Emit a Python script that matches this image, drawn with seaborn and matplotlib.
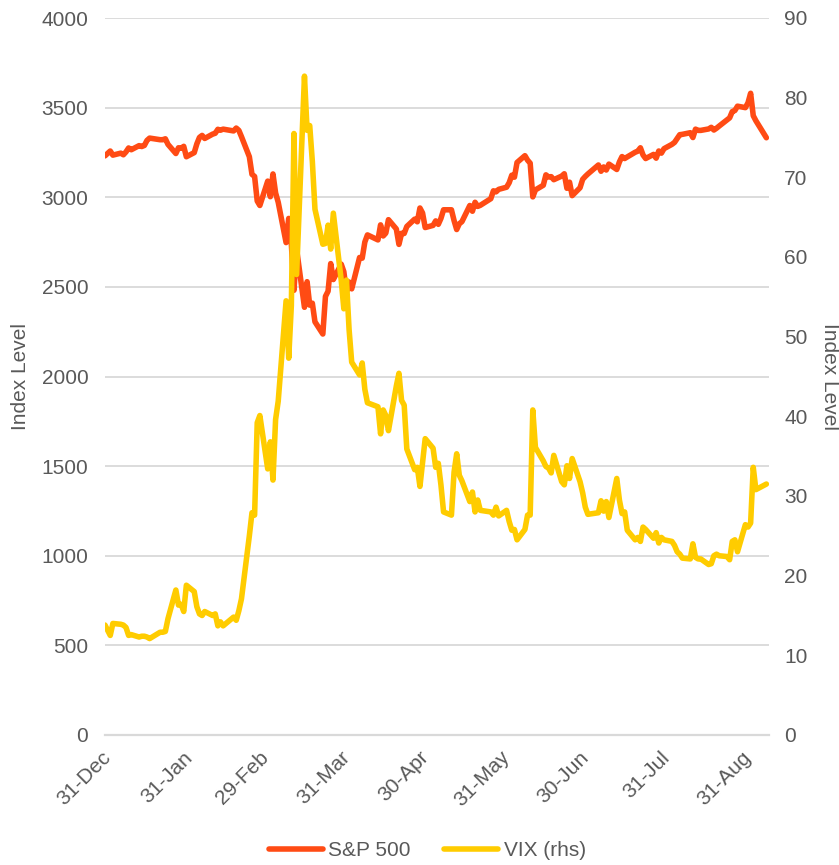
import pandas as pd
import seaborn as sns
import matplotlib.pyplot as plt
import matplotlib.dates as mdates
import matplotlib.transforms as mtransforms
from matplotlib.lines import Line2D

# trading days, 31-Dec-2019 .. 08-Sep-2020
holidays = ['2020-01-01', '2020-01-20', '2020-02-17', '2020-04-10', '2020-05-25', '2020-07-03', '2020-09-07']
dates = pd.bdate_range('2019-12-31', '2020-09-08').difference(pd.to_datetime(holidays))

spx = [3231,
       3258, 3235, 3246, 3237, 3253, 3275, 3265, 3288, 3283, 3289, 3317, 3330, 3321, 3321, 3326, 3295, 3244, 3276, 3273, 3284, 3226,
       3249, 3298, 3334, 3345, 3328, 3352, 3357, 3379, 3374, 3380, 3370, 3386, 3373, 3338, 3226, 3128, 3116, 2979, 2954,
       3090, 3003, 3130, 3024, 2972, 2747, 2882, 2741, 2481, 2711, 2386, 2529, 2398, 2409, 2305, 2237, 2447, 2476, 2630, 2541, 2627, 2585,
       2471, 2527, 2489, 2664, 2660, 2750, 2790, 2762, 2846, 2784, 2800, 2875, 2823, 2737, 2799, 2798, 2837, 2878, 2863, 2940, 2912,
       2831, 2843, 2868, 2849, 2882, 2930, 2930, 2870, 2820, 2852, 2864, 2954, 2922, 2972, 2949, 2955, 2992, 3036, 3030, 3044,
       3056, 3081, 3123, 3112, 3194, 3232, 3207, 3190, 3002, 3041, 3067, 3125, 3113, 3115, 3098, 3118, 3131, 3050, 3084, 3009, 3053, 3100,
       3116, 3130, 3180, 3145, 3169, 3152, 3185, 3155, 3197, 3227, 3216, 3225, 3251, 3257, 3276, 3236, 3216, 3239, 3218, 3258, 3246, 3271,
       3295, 3306, 3327, 3349, 3351, 3360, 3333, 3380, 3373, 3373, 3381, 3390, 3375, 3385, 3397, 3431, 3443, 3478, 3484, 3508, 3500,
       3527, 3580, 3455, 3427, 3332]

vix = [13.8,
       12.5, 14.0, 13.9, 13.8, 13.5, 12.5, 12.6, 12.3, 12.4, 12.4, 12.3, 12.1, 12.9, 12.9, 13.0, 14.6, 18.2, 16.3, 16.4, 15.5, 18.8,
       18.0, 16.1, 15.2, 15.0, 15.5, 15.0, 15.2, 13.7, 14.2, 13.7, 14.8, 14.4, 15.6, 17.1, 25.0, 27.9, 27.6, 39.2, 40.1,
       33.4, 36.8, 32.0, 39.6, 41.9, 54.5, 47.3, 53.9, 75.5, 57.8, 82.7, 75.9, 76.5, 72.0, 66.0, 61.6, 61.7, 64.0, 61.0, 65.5, 57.1, 53.5,
       57.1, 50.9, 46.8, 45.2, 46.7, 43.4, 41.7, 41.2, 37.8, 40.8, 40.1, 38.2, 43.8, 45.4, 42.0, 41.4, 35.9, 33.3, 33.6, 31.2, 34.2,
       37.2, 36.0, 33.6, 34.1, 31.4, 28.0, 27.6, 33.0, 35.3, 32.6, 31.9, 29.3, 30.5, 28.0, 29.5, 28.2, 28.0, 27.6, 28.6, 27.5,
       28.2, 26.8, 25.7, 25.8, 24.5, 25.8, 27.6, 27.6, 40.8, 36.1, 34.4, 33.7, 33.5, 32.9, 35.1, 31.8, 31.4, 33.8, 32.2, 34.7, 31.8, 30.4,
       28.6, 27.7, 27.9, 29.4, 28.1, 29.3, 27.3, 32.2, 29.5, 27.8, 28.0, 25.7, 24.5, 24.8, 24.3, 26.1, 25.8, 24.7, 25.4, 24.1, 24.8, 24.5,
       24.3, 23.8, 23.0, 22.7, 22.2, 22.1, 24.0, 22.3, 22.1, 22.1, 21.4, 21.5, 22.5, 22.7, 22.5, 22.4, 22.0, 24.3, 24.5, 23.0, 26.4,
       26.1, 26.6, 33.6, 30.8, 31.5]

series_names = ['S&P 500', 'VIX (rhs)']
tick_dates = pd.to_datetime(['2019-12-31', '2020-01-31', '2020-02-29', '2020-03-31', '2020-04-30',
                             '2020-05-31', '2020-06-30', '2020-07-31', '2020-08-31'])

SPX_COLOR = '#FF4B14'
VIX_COLOR = '#FFCC00'
GREY = '#D9D9D9'
TEXT = '#595959'
FS = 15
LW = 4.0

sns.set_style('white')
plt.rcParams['font.family'] = ['Liberation Sans', 'DejaVu Sans']

df = pd.DataFrame({'Date': dates, series_names[0]: spx, series_names[1]: vix})

fig = plt.figure(figsize=(8.39, 8.65), dpi=100)
ax = fig.add_axes([105 / 839, 1 - 735 / 865, 664 / 839, 717 / 865])

line_kw = dict(lw=LW, solid_joinstyle='round', solid_capstyle='round')
sns.lineplot(data=df, x='Date', y=series_names[0], ax=ax, color=SPX_COLOR, **line_kw)
ax2 = ax.twinx()
sns.lineplot(data=df, x='Date', y=series_names[1], ax=ax2, color=VIX_COLOR, **line_kw)

ax.set_xlim(pd.Timestamp('2019-12-31'), pd.Timestamp('2020-09-09'))
ax.set_ylim(0, 4000)
ax.set_yticks(range(0, 4001, 500))
ax2.set_ylim(0, 90)
ax2.set_yticks(range(0, 91, 10))

ax.set_xticks(tick_dates)
ax.xaxis.set_major_formatter(mdates.DateFormatter('%d-%b'))
ax.set_xlabel('')

for s in ['top', 'left', 'right']:
    ax.spines[s].set_visible(False)
for s in ax2.spines.values():
    s.set_visible(False)
ax.spines['bottom'].set_color(GREY)
ax.spines['bottom'].set_linewidth(1.6)

ax.grid(axis='y', color=GREY, lw=1.3)
ax.grid(axis='x', visible=False)
ax2.grid(False)

ax.tick_params(axis='x', length=6, width=1.3, color=GREY, pad=8, labelsize=FS, labelcolor=TEXT)
ax.tick_params(axis='y', length=0, pad=12, labelsize=FS, labelcolor=TEXT)
ax2.tick_params(axis='y', length=0, pad=11, labelsize=FS, labelcolor=TEXT)

shift = mtransforms.ScaledTranslation(3 / 100, 0, fig.dpi_scale_trans)
for lbl in ax.get_xticklabels():
    lbl.set_rotation(45)
    lbl.set_ha('right')
    lbl.set_va('center')
    lbl.set_rotation_mode('anchor')
    lbl.set_transform(lbl.get_transform() + shift)

ax.set_ylabel('Index Level', fontsize=FS, color=TEXT, va='center')
ax.yaxis.set_label_coords(-0.128, 0.5)
ax2.set_ylabel('Index Level', fontsize=FS, color=TEXT, rotation=270, va='center')
ax2.yaxis.set_label_coords(1.0905, 0.5)

handles = [Line2D([0], [0], color=SPX_COLOR, lw=LW, solid_capstyle='round'),
           Line2D([0], [0], color=VIX_COLOR, lw=LW, solid_capstyle='round')]
fig.legend(handles, series_names, loc='center', bbox_to_anchor=(0.5095, 1 - 851 / 865),
           ncol=2, frameon=False, fontsize=FS, handlelength=2.6, handletextpad=0.25,
           columnspacing=1.6, labelcolor=TEXT)

fig.savefig('out.png', dpi=100)
